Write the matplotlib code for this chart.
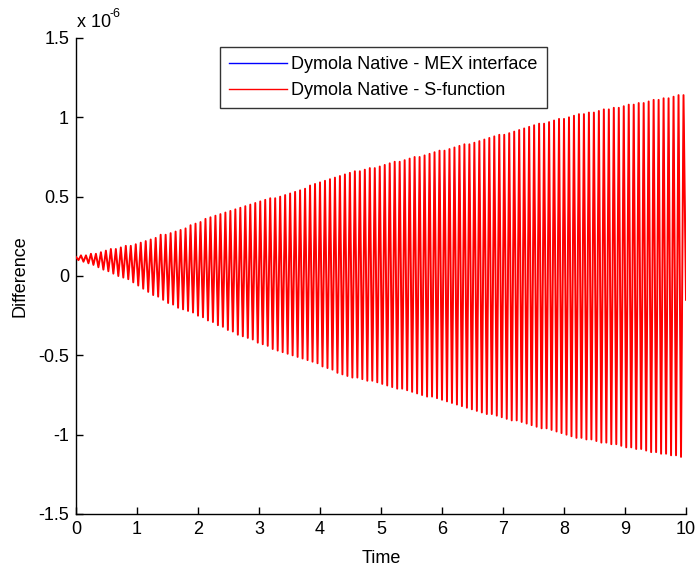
import numpy as np
import matplotlib
matplotlib.use("Agg")
import matplotlib.pyplot as plt

# Difference signal (units of 1e-6): start, then (bottom, top) per cycle, then end value
diff_vals = [0.12,
    0.10, 0.13, 0.09, 0.13, 0.08, 0.14, 0.07, 0.14, 0.055, 0.15, 0.04, 0.16, 0.03, 0.17, 0.015, 0.17, 0.00, 0.18, -0.01, 0.19,
    -0.02, 0.19, -0.04, 0.20, -0.06, 0.21, -0.08, 0.22, -0.10, 0.23, -0.12, 0.24, -0.13, 0.26, -0.15, 0.26, -0.17, 0.27, -0.18, 0.28,
    -0.20, 0.29, -0.21, 0.30, -0.22, 0.32, -0.23, 0.33, -0.25, 0.34, -0.26, 0.36, -0.28, 0.37, -0.29, 0.38, -0.31, 0.39, -0.32, 0.40,
    -0.34, 0.41, -0.35, 0.42, -0.37, 0.43, -0.38, 0.44, -0.39, 0.45, -0.40, 0.46, -0.42, 0.47, -0.43, 0.48, -0.44, 0.49, -0.46, 0.49,
    -0.47, 0.50, -0.48, 0.51, -0.49, 0.52, -0.50, 0.53, -0.51, 0.54, -0.52, 0.55, -0.53, 0.57, -0.54, 0.58, -0.55, 0.59, -0.57, 0.60,
    -0.58, 0.61, -0.59, 0.62, -0.61, 0.63, -0.62, 0.64, -0.63, 0.65, -0.64, 0.66, -0.64, 0.66, -0.65, 0.67, -0.66, 0.68, -0.66, 0.68,
    -0.67, 0.69, -0.68, 0.70, -0.69, 0.71, -0.70, 0.72, -0.71, 0.72, -0.71, 0.73, -0.72, 0.74, -0.73, 0.75, -0.74, 0.75, -0.75, 0.76,
    -0.76, 0.77, -0.76, 0.78, -0.77, 0.79, -0.78, 0.79, -0.79, 0.80, -0.80, 0.81, -0.81, 0.82, -0.82, 0.83, -0.83, 0.83, -0.84, 0.84,
    -0.85, 0.85, -0.86, 0.86, -0.87, 0.87, -0.87, 0.88, -0.88, 0.89, -0.89, 0.89, -0.90, 0.90, -0.91, 0.91, -0.91, 0.92, -0.92, 0.93,
    -0.93, 0.94, -0.94, 0.95, -0.95, 0.96, -0.96, 0.96, -0.96, 0.97, -0.97, 0.98, -0.98, 0.99, -0.99, 0.99, -1.00, 1.00, -1.01, 1.01,
    -1.02, 1.02, -1.02, 1.02, -1.03, 1.03, -1.03, 1.03, -1.04, 1.04, -1.05, 1.05, -1.05, 1.05, -1.06, 1.06, -1.06, 1.06, -1.07, 1.07,
    -1.08, 1.08, -1.08, 1.08, -1.09, 1.09, -1.09, 1.09, -1.10, 1.10, -1.11, 1.11, -1.11, 1.11, -1.12, 1.12, -1.12, 1.12, -1.13, 1.13,
    -1.13, 1.14, -1.14, 1.14,
    -0.15]

t_start, t_end = 0.0, 10.0
series_labels = ["Dymola Native - MEX interface", "Dymola Native - S-function"]
series_colors = ["#0000ff", "#ff0000"]
x_ticks = [0, 1, 2, 3, 4, 5, 6, 7, 8, 9, 10]
y_ticks = [-1.5, -1, -0.5, 0, 0.5, 1, 1.5]
y_tick_labels = ["-1.5", "-1", "-0.5", "0", "0.5", "1", "1.5"]

plt.rcParams['font.family'] = ['Liberation Sans', 'DejaVu Sans']
plt.rcParams['mathtext.fontset'] = 'custom'
plt.rcParams['mathtext.rm'] = 'Liberation Sans'
plt.rcParams['mathtext.default'] = 'regular'

time = np.linspace(t_start, t_end, len(diff_vals))
mex_diff = np.array(diff_vals)
sfun_diff = np.array(diff_vals)

W, H = 699, 569
fig = plt.figure(figsize=(W / 100, H / 100), dpi=100)
ax = fig.add_axes([76 / W, 1 - 514 / H, (686 - 76) / W, (514 - 38) / H])

ax.plot(time, mex_diff, color=series_colors[0], lw=0.4, label=series_labels[0], zorder=2)
ax.plot(time, sfun_diff, color=series_colors[1], lw=1.4, label=series_labels[1], zorder=3)

ax.set_xlim(0, 10)
ax.set_ylim(-1.5, 1.5)
ax.set_xticks(x_ticks)
ax.set_xticklabels([str(v) for v in x_ticks])
ax.set_yticks(y_ticks)
ax.set_yticklabels(y_tick_labels)
ax.tick_params(direction='in', length=5, width=1, labelsize=13, colors='black', pad=5)
for s in ['top', 'right']:
    ax.spines[s].set_visible(False)
for s in ['left', 'bottom']:
    ax.spines[s].set_linewidth(1.0)
    ax.spines[s].set_color('black')

ax.set_xlabel("Time", fontsize=13, labelpad=9)
ax.set_ylabel("Difference", fontsize=13, labelpad=7)

fig.text(77 / W, 1 - 27 / H, "x 10", fontsize=13, ha='left', va='baseline')
fig.text(110 / W, 1 - 17 / H, "-6", fontsize=9, ha='left', va='baseline')

leg = ax.legend(loc='upper left', bbox_to_anchor=(0.236, 0.981), borderaxespad=0,
                fontsize=13, frameon=True, fancybox=False, edgecolor='black',
                handlelength=3.2, handletextpad=0.25, borderpad=0.5, labelspacing=0.5)
leg.get_frame().set_linewidth(1.0)
for h in leg.get_lines():
    h.set_linewidth(1.0)

fig.savefig("out.png", dpi=100)
